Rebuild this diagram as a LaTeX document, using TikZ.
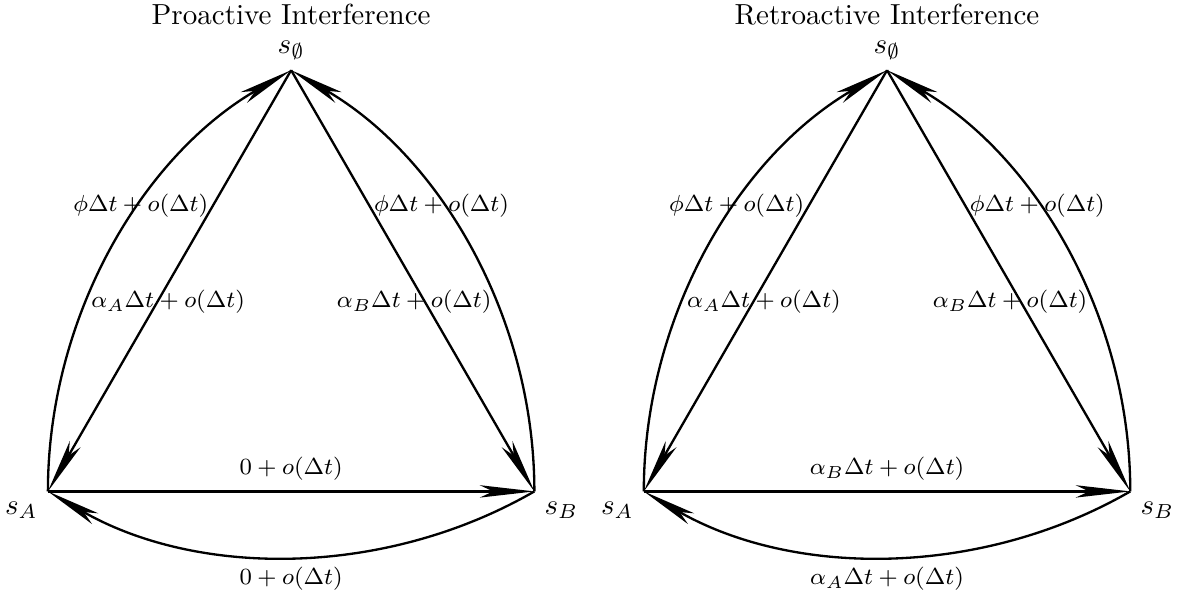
\documentclass[tikz,border=0pt]{standalone}
\usepackage{amsmath}
\usepackage{amssymb}
\usetikzlibrary{arrows.meta}

\begin{document}
\begin{tikzpicture}[
  arr/.style={-{Stealth[length=6.6mm, width=1.5mm, inset=1.6mm]}, thick},
  curv/.style={arr, looseness=0.91},
  lbl/.style={font=\footnotesize}
]

\useasboundingbox (0,0) rectangle (14.36,7.23);

% proactive panel
\begin{scope}
\coordinate (A1) at (0.58,1.28);
\coordinate (B1) at (6.47,1.28);
\coordinate (O1) at (3.525,6.38);
\node (t1) at (3.525,7.05) {Proactive Interference};
\node[above] (o1) at (O1) {$s_\emptyset$};
\node[below left] (a1) at (A1) {$s_A$};
\node[below right] (b1) at (B1) {$s_B$};

\draw[curv] (A1) to[bend left=30] node[lbl, pos=0.6] (l11) {$\phi\Delta t+o(\Delta t)$} (O1);
\draw[curv] (B1) to[bend right=30] node[lbl, pos=0.6] (l12) {$\phi\Delta t+o(\Delta t)$} (O1);
\draw[arr] (O1) -- node[lbl, pos=0.55, xshift=1.3mm] (l13) {$\alpha_A\Delta t+o(\Delta t)$} (A1);
\draw[arr] (O1) -- node[lbl, pos=0.55, xshift=-1.3mm] (l14) {$\alpha_B\Delta t+o(\Delta t)$} (B1);
\draw[arr] (A1) -- node[lbl, above] (l15) {$0+o(\Delta t)$} (B1);
\draw[curv] (B1) to[bend left=30] node[lbl, below] (l16) {$0+o(\Delta t)$} (A1);
\end{scope}

% retroactive panel
\begin{scope}[xshift=7.215cm]
\coordinate (A2) at (0.58,1.28);
\coordinate (B2) at (6.47,1.28);
\coordinate (O2) at (3.525,6.38);
\node (t2) at (3.525,7.05) {Retroactive Interference};
\node[above] (o2) at (O2) {$s_\emptyset$};
\node[below left] (a2) at (A2) {$s_A$};
\node[below right] (b2) at (B2) {$s_B$};

\draw[curv] (A2) to[bend left=30] node[lbl, pos=0.6] (l21) {$\phi\Delta t+o(\Delta t)$} (O2);
\draw[curv] (B2) to[bend right=30] node[lbl, pos=0.6] (l22) {$\phi\Delta t+o(\Delta t)$} (O2);
\draw[arr] (O2) -- node[lbl, pos=0.55, xshift=1.3mm] (l23) {$\alpha_A\Delta t+o(\Delta t)$} (A2);
\draw[arr] (O2) -- node[lbl, pos=0.55, xshift=-1.3mm] (l24) {$\alpha_B\Delta t+o(\Delta t)$} (B2);
\draw[arr] (A2) -- node[lbl, above] (l25) {$\alpha_B\Delta t+o(\Delta t)$} (B2);
\draw[curv] (B2) to[bend left=30] node[lbl, below] (l26) {$\alpha_A\Delta t+o(\Delta t)$} (A2);
\end{scope}

\end{tikzpicture}
\end{document}
